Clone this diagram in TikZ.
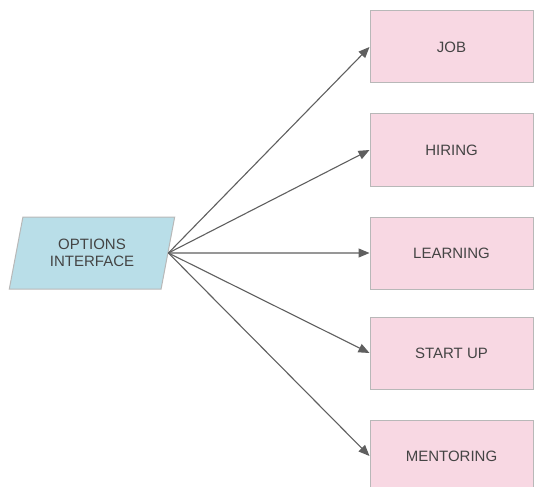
\documentclass[tikz,border=0pt]{standalone}
\usepackage{fontspec}
\setmainfont{Liberation Sans}
\usetikzlibrary{arrows.meta, positioning, shapes.geometric}
\definecolor{optblue}{HTML}{B9DEE8}
\definecolor{optpink}{HTML}{F8D8E3}
\definecolor{optgray}{HTML}{B8B8B8}
\definecolor{arrowgray}{HTML}{5F5F5F}
\definecolor{textgray}{HTML}{444444}

\begin{document}
\begin{tikzpicture}[x=1pt, y=-1pt,
      every node/.style={font=\fontsize{15}{16.5}\selectfont, text=textgray},
      choice/.style={draw=optgray, fill=optpink, line width=1pt,
                     minimum width=163pt, minimum height=72pt, inner sep=0pt},
      iface/.style={trapezium, trapezium left angle=73, trapezium right angle=107,
                    trapezium stretches=true, draw=optgray, fill=optblue, line width=1pt,
                    minimum width=166pt, minimum height=72pt, align=center, inner sep=0pt},
      arr/.style={-{Triangle[length=11pt, width=9pt]}, line width=1.1pt, arrowgray},
    ]
    \useasboundingbox (0,0) rectangle (534,486);

    % Nodes
    \node[iface] (options) at (92,253) {OPTIONS\\INTERFACE};
    \node[choice] (learning) at (451.5,253) {LEARNING};
    \node[choice, above=30pt of learning] (hiring)    {HIRING};
    \node[choice, above=30pt of hiring]   (job)       {JOB};
    \node[choice, below=27pt of learning] (startup)   {START UP};
    \node[choice, below=30pt of startup]  (mentoring) {MENTORING};

    % Arrows
    \draw[arr] (options.east) -- (job.west);
    \draw[arr] (options.east) -- (hiring.west);
    \draw[arr] (options.east) -- (learning.west);
    \draw[arr] (options.east) -- (startup.west);
    \draw[arr] (options.east) -- (mentoring.west);
  \end{tikzpicture}
\end{document}
